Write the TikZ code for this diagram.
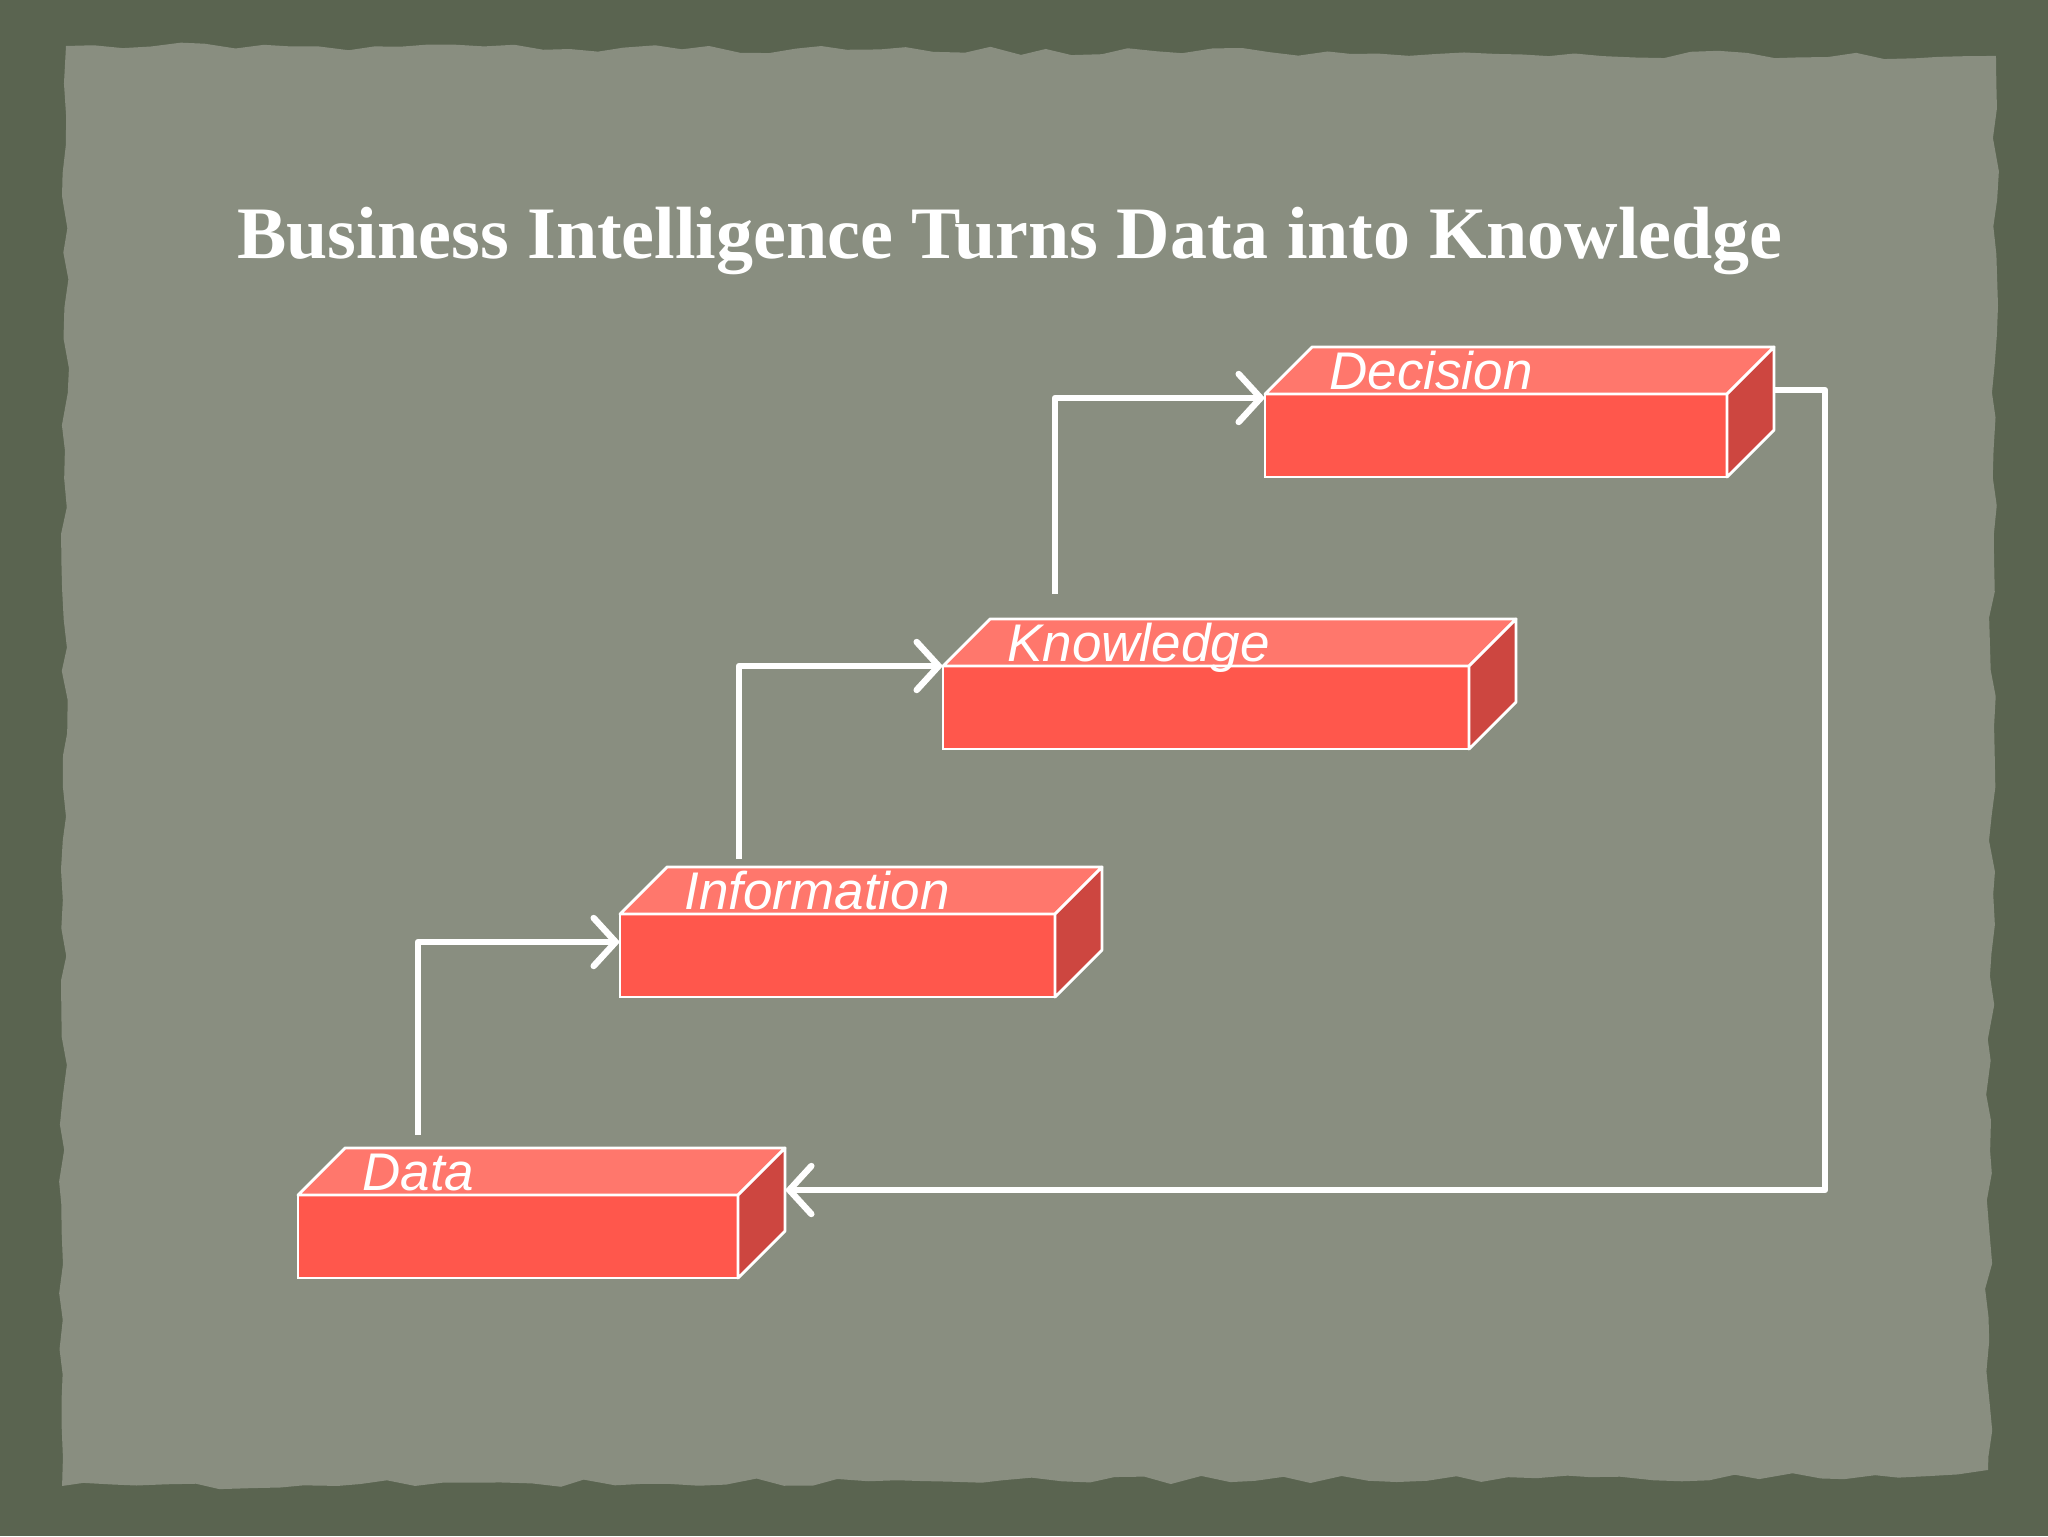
\documentclass[tikz,border=0pt]{standalone}
\usepackage{fontspec}
\setmainfont{Liberation Serif}
\newfontfamily\labelfont{Liberation Sans}
\usepackage{tikz}
\usetikzlibrary{arrows.meta,calc,positioning,decorations.pathmorphing}
\definecolor{frame}{HTML}{5A6450}
\definecolor{paper}{HTML}{898E80}
\definecolor{frontred}{HTML}{FF574C}
\definecolor{topred}{HTML}{FF776C}
\definecolor{sidered}{HTML}{CD4640}
\newcommand\Faces[1]{%
  \filldraw[topface] (#1.north west) -- ++(47,-47) -- ($(#1.north east)+(47,-47)$) -- (#1.north east) -- cycle;
  \filldraw[sideface] (#1.north east) -- ++(47,-47) -- ($(#1.south east)+(47,-47)$) -- (#1.south east) -- cycle;}

\begin{document}
\begin{tikzpicture}[x=0.5pt,y=-0.5pt,
        front/.style={
          rectangle, draw=white, fill=frontred, line width=1.4pt,
          inner sep=0pt, outer sep=0pt, anchor=north west,
          minimum height=41.5pt
        },
        topface/.style={draw=white, fill=topred, line width=1.4pt, line join=round},
        sideface/.style={draw=white, fill=sidered, line width=1.4pt, line join=round},
        lbl/.style={anchor=base west, text=white, inner sep=0pt,
          font=\labelfont\itshape\fontsize{26.5}{30}\selectfont},
        flow/.style={draw=white, line width=3.2pt, line join=round,
          -{Straight Barb[length=11pt,width=24pt,line cap=round]}}
      ]
        \useasboundingbox (0,0) rectangle (2048,1536);

        % Torn paper
        \fill[frame] (0,0) rectangle (2048,1536);
        \pgfmathsetseed{7}
        \fill[paper, decorate, decoration={random steps,segment length=14pt,amplitude=2pt}]
        (66,46) -- (1996,56) -- (1988,1470) -- (1930,1476) -- (62,1486) -- cycle;

        % Title
        \node[anchor=base, text=white, inner sep=0pt, font=\bfseries\fontsize{37}{40}\selectfont]
        (title) at (1010,258) {Business Intelligence Turns Data into Knowledge};

        % Boxes
        \node (data) [front, minimum width=220pt] at (298,1195) {};
        \Faces{data}
        \node (info) [front, minimum width=217.5pt] at (620,914) {};
        \Faces{info}
        \node (know) [front, minimum width=263pt] at (943,666) {};
        \Faces{know}
        \node (dec) [front, minimum width=231pt] at (1265,394) {};
        \Faces{dec}

        \node (datalbl) [lbl] at ($(data.north west)+(64,-5)$) {Data};
        \node (infolbl) [lbl] at ($(info.north west)+(64,-5)$) {Information};
        \node (knowlbl) [lbl] at ($(know.north west)+(64,-5)$) {Knowledge};
        \node (declbl) [lbl] at ($(dec.north west)+(64,-5)$) {Decision};

        % Arrows
        \coordinate (s1) at ($(data.north west)+(120,-60)$);
        \coordinate (e1) at ($(info.north west)+(0,28)$);
        \coordinate (s2) at ($(info.north west)+(119,-55)$);
        \coordinate (e2) at (know.north west);
        \coordinate (s3) at ($(know.north west)+(112,-72)$);
        \coordinate (e3) at ($(dec.north west)+(0,4)$);
        \coordinate (s4) at ($(dec.north east)+(47,-4)$);
        \coordinate (t4) at ($(s4)+(51,0)$);
        \coordinate (e4) at ($(data.north east)+(47,-5)$);

        \draw [flow] (s1) |- (e1);
        \draw [flow] (s2) |- (e2);
        \draw [flow] (s3) |- (e3);
        \draw [flow] (s4) -- (t4) |- (e4);

      \end{tikzpicture}
\end{document}
